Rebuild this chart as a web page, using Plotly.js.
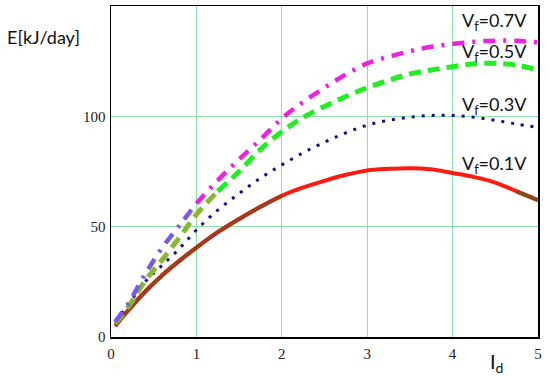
<!DOCTYPE html>
<html>
<head>
<meta charset="utf-8">
<script src="https://cdn.plot.ly/plotly-3.0.1.min.js"></script>
<style>html,body{margin:0;padding:0;background:#fff;}#chart{width:550px;height:377px;}</style>
</head>
<body>
<div id="chart"></div>
<script>
// Current I_d
var Id = [0.05, 0.2, 0.4, 0.6, 0.8, 1, 1.25, 1.5, 1.75, 2, 2.25, 2.5, 2.75, 3, 3.25, 3.5, 3.75, 4, 4.25, 4.5, 4.75, 5];
// Energy E [kJ/day] for each V_f
var E_01 = [5, 12, 20.5, 28, 34.5, 40.5, 47.5, 53.5, 59, 64, 67.8, 70.8, 73.5, 75.5, 76.2, 76.5, 76, 74.3, 72.5, 70, 66, 62];
var E_03 = [7, 14.5, 25, 32.5, 40, 48.5, 57.5, 65, 72, 78, 83.5, 88.3, 92.5, 96, 98.2, 99.6, 100.4, 100.4, 99.6, 98.2, 96.5, 95];
var E_05 = [6, 13.5, 25.5, 35, 45, 55.5, 66, 75, 85, 93, 99.5, 104.5, 109, 113, 116.3, 119.2, 121, 122.5, 123.8, 124, 123.2, 121];
var E_07 = [7, 15, 28.5, 40.5, 50.5, 60.5, 71, 80.5, 89.5, 99, 106.5, 113, 119, 124, 127, 129.5, 131.5, 132.8, 133.8, 134.3, 134.2, 133.5];
var labels = ["V<sub>f</sub>=0.7V", "V<sub>f</sub>=0.5V", "V<sub>f</sub>=0.3V", "V<sub>f</sub>=0.1V"];
var labelY = [143, 129, 105, 78];
var xTicks = [0, 1, 2, 3, 4, 5];
var yTicks = [0, 50, 100];

function part(arr, a, b) { return arr.slice(a, b); }
var n = Id.length;
function tr(x, y, line) { line.shape = 'spline'; line.smoothing = 1; return {x: x, y: y, mode: 'lines', line: line}; }
var traces = [
  tr(Id, E_01, {color: '#ff1a10', width: 4}),
  tr(part(Id, 0, 10), part(E_01, 0, 10), {color: '#a33a1a', width: 4}),
  tr(part(Id, 20, n), part(E_01, 20, n), {color: '#8a4a1a', width: 4}),
  tr(Id, E_03, {color: '#10108a', width: 3, dash: '3px,7px'}),
  tr(part(Id, 6, n), part(E_05, 6, n), {color: '#22ee22', width: 5, dash: '12px,7px'}),
  tr(part(Id, 0, 7), part(E_05, 0, 7), {color: '#88b830', width: 5, dash: '12px,7px'}),
  tr(part(Id, 5, n), part(E_07, 5, n), {color: '#f020e0', width: 4.5, dash: '12px,8px,3px,8px'}),
  tr(part(Id, 0, 6), part(E_07, 0, 6), {color: '#7a5ae8', width: 4.5, dash: '12px,8px,3px,8px'})
];

var annotations = labels.map(function (t, i) {
  return {x: 4.09, y: labelY[i], xref: 'x', yref: 'y', text: t, showarrow: false,
    xanchor: 'left', yanchor: 'middle', font: {family: 'Lato, "Open Sans", sans-serif', size: 18, color: '#111'}};
});
annotations.push({x: -0.248, y: 0.905, xref: 'paper', yref: 'paper', text: 'E[kJ/day]', showarrow: false,
  xanchor: 'left', yanchor: 'middle', font: {family: 'Lato, "Open Sans", sans-serif', size: 18, color: '#111'}});
annotations.push({x: 4.42, y: -0.03, xref: 'x', yref: 'paper', text: 'I<sub>d</sub>', showarrow: false,
  xanchor: 'left', yanchor: 'top', font: {family: 'Lato, "Open Sans", sans-serif', size: 20, color: '#111'}});

var layout = {
  width: 550, height: 377,
  margin: {l: 111, r: 12, t: 6, b: 40, pad: 0},
  paper_bgcolor: '#fff', plot_bgcolor: '#fff',
  showlegend: false,
  xaxis: {range: [0, 5], tickvals: xTicks, ticktext: xTicks.map(String), showgrid: true,
    gridcolor: '#8fe0a8', gridwidth: 1, zeroline: false, showline: true, linecolor: '#000', linewidth: 1.5,
    mirror: true, ticks: '', ticklabelstandoff: 2,
    tickfont: {family: '"Liberation Serif", "DejaVu Serif", serif', size: 15, color: '#222'}},
  yaxis: {range: [0, 150], tickvals: yTicks, ticktext: yTicks.map(String), showgrid: true,
    gridcolor: '#8fe0a8', gridwidth: 1, zeroline: false, showline: true, linecolor: '#000', linewidth: 1.5,
    mirror: true, ticks: '', ticklabelstandoff: 1,
    tickfont: {family: '"Liberation Serif", "DejaVu Serif", serif', size: 15, color: '#222'}},
  annotations: annotations
};

Plotly.newPlot('chart', traces, layout, {displayModeBar: false, staticPlot: true});
</script>
</body>
</html>
